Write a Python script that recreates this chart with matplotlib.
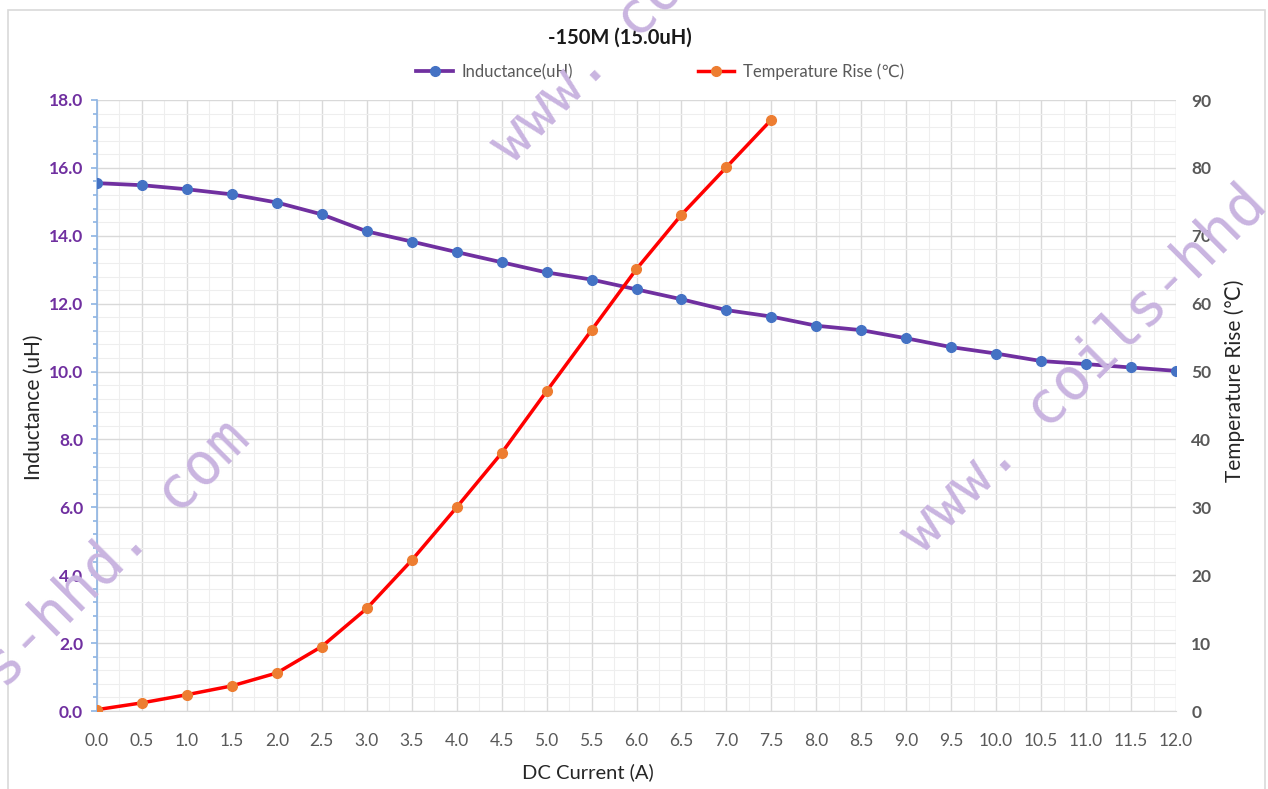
import numpy as np
import matplotlib
matplotlib.use("Agg")
import matplotlib.pyplot as plt
from matplotlib.patches import Rectangle
from matplotlib.ticker import FormatStrFormatter, MultipleLocator

plt.rcParams['font.family'] = ['Lato', 'DejaVu Sans']

# data
current = [0.0, 0.5, 1.0, 1.5, 2.0, 2.5, 3.0, 3.5, 4.0, 4.5, 5.0, 5.5,
           6.0, 6.5, 7.0, 7.5, 8.0, 8.5, 9.0, 9.5, 10.0, 10.5, 11.0, 11.5, 12.0]
inductance = [15.55, 15.49, 15.37, 15.22, 14.98, 14.63, 14.13, 13.83, 13.52, 13.22,
              12.92, 12.71, 12.42, 12.13, 11.81, 11.62, 11.35, 11.22, 10.98, 10.72,
              10.53, 10.31, 10.22, 10.12, 10.02]
temp_current = [0.0, 0.5, 1.0, 1.5, 2.0, 2.5, 3.0, 3.5, 4.0, 4.5, 5.0, 5.5, 6.0, 6.5, 7.0, 7.5]
temp_rise = [0.2, 1.2, 2.4, 3.7, 5.6, 9.5, 15.1, 22.2, 30.0, 38.0, 47.1, 56.1, 65.1, 73.1, 80.1, 87.1]

title = "-150M (15.0uH)"
watermark = "www. coils-hhd. com"

W, H = 1268, 789
fig = plt.figure(figsize=(W / 100, H / 100), dpi=100)
fig.patch.set_facecolor('white')

# chart area frame
fig.patches.append(Rectangle((8 / W, -0.01), (1265 - 8) / W, 1 - 10 / H + 0.01,
                             transform=fig.transFigure, fill=False,
                             edgecolor='#d9d9d9', lw=1.2))

ax = fig.add_axes([97 / W, 1 - 711 / H, (1176 - 97) / W, (711 - 100) / H])
ax2 = ax.twinx()

l1, = ax.plot(current, inductance, '-o', color='#7030a0', lw=2.7,
              marker='o', ms=7, mfc='#4472c4', mec='#4472c4', zorder=3,
              label='Inductance(uH)')
l2, = ax2.plot(temp_current, temp_rise, '-o', color='#ff0000', lw=2.5,
               marker='o', ms=7, mfc='#ed7d31', mec='#ed7d31', zorder=3,
               label='Temperature Rise (\u2103)')

ax.set_xlim(0, 12)
ax.set_ylim(0, 18)
ax2.set_ylim(0, 90)

ax.xaxis.set_major_locator(MultipleLocator(0.5))
ax.xaxis.set_minor_locator(MultipleLocator(0.25))
ax.yaxis.set_major_locator(MultipleLocator(2))
ax.yaxis.set_minor_locator(MultipleLocator(0.4))
ax2.yaxis.set_major_locator(MultipleLocator(10))
ax.xaxis.set_major_formatter(FormatStrFormatter('%.1f'))
ax.yaxis.set_major_formatter(FormatStrFormatter('%.1f'))

ax.grid(which='major', color='#d9d9d9', lw=1.0)
ax.grid(which='minor', color='#eeeeee', lw=0.8)
ax.set_axisbelow(True)

for s in ['top', 'right']:
    ax.spines[s].set_visible(False)
for s in ax2.spines.values():
    s.set_visible(False)
ax.spines['bottom'].set_color('#d9d9d9')
ax.spines['left'].set_color('#8eb4e3')
ax.spines['left'].set_linewidth(1.2)

ax.tick_params(axis='x', which='both', length=0, pad=16, labelsize=12.5, labelcolor='#595959')
ax.tick_params(axis='y', which='major', length=4, width=1.2, color='#8eb4e3',
               pad=6, labelsize=12.5, labelcolor='#7030a0')
ax.tick_params(axis='y', which='minor', length=3, width=1.2, color='#8eb4e3')
for t in ax.get_yticklabels():
    t.set_fontweight('bold')
ax2.tick_params(axis='y', length=0, pad=11, labelsize=12.5, labelcolor='#595959')
for t in ax2.get_yticklabels():
    t.set_fontweight('bold')

ax.set_xlabel('DC Current (A)', fontsize=14.5, color='#262626')
ax.xaxis.set_label_coords((588 - 97) / 1079, -(763 - 711) / 611)
ax.set_ylabel('Inductance (uH)', fontsize=15, color='#262626')
ax.yaxis.set_label_coords(-(97 - 44) / 1079, (711 - 407) / 611)
ax2.set_ylabel('Temperature Rise (\u2103)', fontsize=15, color='#262626')
ax2.yaxis.set_label_coords((1224 - 97) / 1079, (711 - 381) / 611)

fig.text(620 / W, 1 - 38 / H, title, ha='center', va='center',
         fontsize=14.5, fontweight='bold', color='#1a1a1a')

fig.legend(handles=[l1, l2], loc='center', bbox_to_anchor=(660 / W, 1 - 72 / H),
           ncol=2, frameon=False, fontsize=12, labelcolor='#595959',
           handlelength=2.2, handletextpad=0.5, columnspacing=7.5)

# watermarks
wm_kw = dict(rotation=45, rotation_mode='anchor', ha='left', va='baseline',
             fontsize=42, family='DejaVu Sans Mono', color='#c9b4e0', zorder=10)
for px, py in [(512, 165), (922, 555), (-220, 913)]:
    fig.text(px / W, 1 - py / H, watermark, **wm_kw)

fig.savefig('out.png', dpi=100)
